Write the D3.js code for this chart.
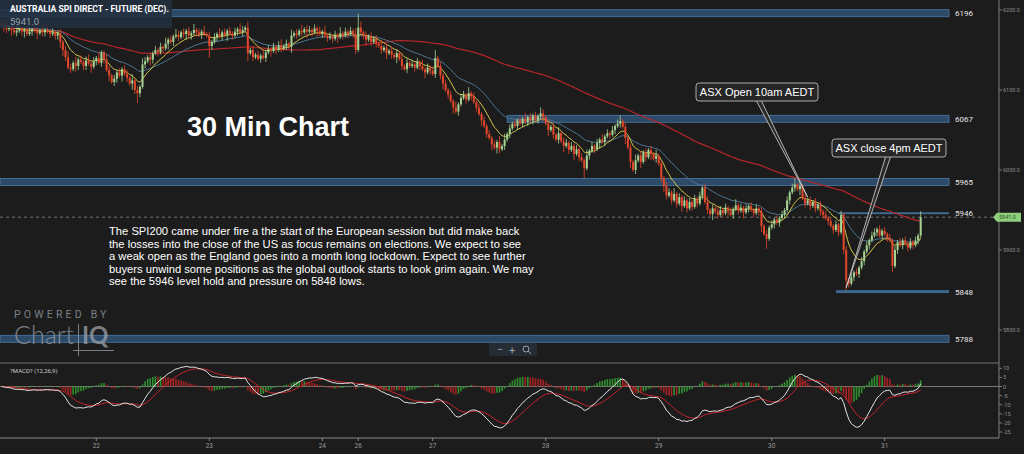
<!DOCTYPE html>
<html>
<head>
<meta charset="utf-8">
<script src="https://cdn.jsdelivr.net/npm/d3@7"></script>
<style>
  body { margin: 0; background: #1c1c1c; overflow: hidden; }
  text { font-family: Roboto, "Liberation Sans", sans-serif; }
</style>
</head>
<body>
<script>
// 30 min closes (open = previous close)
var closes = [
  6181, 6178, 6176, 6179, 6175, 6172, 6174, 6177, 6173, 6175, 6170, 6173, 6176, 6174, 6171, 6174, 6172, 6175, 6173, 6170,
  6172, 6168, 6171, 6160, 6150, 6141, 6128, 6126, 6134, 6130, 6138, 6135, 6130, 6137, 6133, 6129, 6136, 6140, 6134, 6147,
  6138, 6125, 6118, 6110, 6114, 6122, 6118, 6126, 6120, 6115, 6108, 6112, 6100, 6096, 6104, 6132, 6136, 6141, 6138, 6146,
  6150, 6147, 6154, 6152, 6158, 6163, 6160, 6167, 6169, 6166, 6172, 6170, 6174, 6168, 6171, 6175, 6172, 6169, 6173, 6170,
  6168, 6155, 6160, 6166, 6170, 6167, 6172, 6169, 6174, 6171, 6168, 6173, 6176, 6172, 6175, 6178, 6146, 6150, 6141, 6144,
  6139, 6143, 6140, 6147, 6151, 6149, 6154, 6150, 6156, 6152, 6155, 6158, 6154, 6168, 6171, 6169, 6174, 6172, 6176, 6173,
  6175, 6172, 6177, 6174, 6170, 6173, 6168, 6165, 6167, 6164, 6169, 6166, 6171, 6168, 6173, 6170, 6174, 6170, 6150, 6178,
  6172, 6168, 6163, 6167, 6160, 6164, 6158, 6155, 6150, 6153, 6146, 6149, 6144, 6141, 6146, 6139, 6130, 6126, 6134, 6130,
  6132, 6128, 6135, 6130, 6126, 6122, 6128, 6124, 6120, 6140, 6130, 6118, 6108, 6100, 6094, 6086, 6078, 6073, 6082, 6090,
  6094, 6088, 6096, 6092, 6085, 6078, 6070, 6062, 6055, 6045, 6040, 6032, 6028, 6035, 6026, 6030, 6038, 6045, 6052, 6058,
  6055, 6062, 6058, 6064, 6060, 6066, 6062, 6068, 6063, 6067, 6071, 6066, 6058, 6050, 6054, 6044, 6038, 6046, 6036, 6030,
  6034, 6025, 6030, 6020, 6026, 6016, 6012, 6002, 6018, 6024, 6030, 6026, 6034, 6038, 6035, 6042, 6046, 6044, 6050, 6055,
  6058, 6061, 6054, 6040, 6028, 6010, 6000, 6012, 6018, 6010, 6022, 6016, 6025, 6020, 6014, 6018, 6008, 5990, 5980, 5968,
  5972, 5962, 5970, 5958, 5966, 5955, 5962, 5952, 5960, 5954, 5964, 5958, 5968, 5978, 5960, 5950, 5945, 5952, 5948, 5944,
  5950, 5946, 5953, 5948, 5944, 5951, 5956, 5949, 5953, 5947, 5952, 5955, 5950, 5946, 5952, 5948, 5930, 5920, 5914, 5928,
  5932, 5938, 5934, 5940, 5944, 5950, 5962, 5972, 5978, 5982, 5976, 5980, 5965, 5958, 5962, 5955, 5960, 5952, 5956, 5948,
  5944, 5940, 5936, 5930, 5925, 5932, 5922, 5944, 5900, 5862, 5858, 5866, 5872, 5870, 5878, 5886, 5898, 5906, 5912, 5918,
  5922, 5926, 5918, 5924, 5920, 5915, 5912, 5880, 5900, 5910, 5906, 5912, 5908, 5903, 5910, 5906, 5912, 5918, 5941
];
// wick lengths above / below the body, one digit per bar (x2.5 points)
var wickUp =
  "21312132112312213121" + "21121232131212312131" + "13212121221312132121" + "21213121321212131213" +
  "12121312121213213121" + "21312121231213121312" + "21212131212131212137" + "31212121312121213121" +
  "21213121241212121312" + "21312121212121313121" + "21213121213212121312" + "21212121312121312121" +
  "23121213121212131212" + "21312121212121231212" + "21212131212121212121" + "21212121231212121212" +
  "12121212121212121212" + "2121212121212121213";
var wickDn =
  "12213121231121312212" + "12233212132122131212" + "21312213121325212132" + "12121312121231212121" +
  "16212121312121214121" + "12121312121213121213" + "12131212121312121221" + "12312121213121312121" +
  "12121312121231213121" + "12121213121313212121" + "12121212121213121213" + "12131215121213121212" +
  "12131312131213121232" + "12121312121212121312" + "12121212131212123151" + "12121212121312121212" +
  "21212121252121212121" + "1212121312121212121";

var dayLabels = ['22', '23', '24', '26', '27', '28', '29', '30', '31'];
var dayBars = [37, 81, 125, 139, 168, 212, 256, 300, 344];

var levelLabels = ['6196', '6067', '5965', '5946', '5848', '5788'];
var levelPrices = [6196, 6064, 5985, 5946, 5848, 5789];
var levelFromBar = [0, 197, 0, 326, 325, 0];
var levelThick = [7, 7, 7, 2, 3, 7];

var priceTicks = [6200, 6100, 6000, 5900, 5800];
var macdTicks = [10, 5, 0, -5, -10, -15, -20, -25];
var lastPrice = 5941.0;

var W = 1024, H = 454;
var plotR = 999;

var svg = d3.select('body').append('svg')
  .attr('width', W)
  .attr('height', H);

var x = d3.scaleLinear().domain([0, 389]).range([0, plotR]);
var y = d3.scaleLinear().domain([5800, 6200]).range([330, 10]);
var ym = d3.scaleLinear().domain([-25, 10]).range([432, 368.3]);

// candles
var bars = closes.map(function(c, i) {
  var o = i ? closes[i - 1] : c + 2;
  var up = +(wickUp[i] || 1) * 2.5, dn = +(wickDn[i] || 1) * 2.5;
  return { i: i, o: o, c: c, h: Math.max(o, c) + up, l: Math.min(o, c) - dn };
});

function ema(arr, n) {
  var k = 2 / (n + 1), e, out = [];
  arr.forEach(function(v, i) { e = i ? v * k + e * (1 - k) : v; out.push(e); });
  return out;
}
function sma(arr, n) {
  return arr.map(function(v, i) {
    var s = arr.slice(Math.max(0, i - n + 1), i + 1);
    return d3.mean(s);
  });
}

var maFast = ema(closes, 10);
var maMid = ema(closes, 26);
var maSlow = sma(closes, 100);

var ema26 = ema(closes, 26);
var macd = ema(closes, 12).map(function(v, i) { return v - ema26[i]; });
var signal = ema(macd, 9);
var hist = macd.map(function(v, i) { return v - signal[i]; });

var cx = function(i) { return x(i + 0.5); };

// clip for the price panel
svg.append('clipPath').attr('id', 'pclip')
  .append('rect').attr('x', 0).attr('y', 0).attr('width', plotR).attr('height', 363);

var price = svg.append('g').attr('clip-path', 'url(#pclip)');

// level bands
levelPrices.forEach(function(p, k) {
  var x0 = levelFromBar[k] ? cx(levelFromBar[k]) : 0;
  var t = levelThick[k];
  price.append('rect')
    .attr('x', x0).attr('y', y(p) - t / 2)
    .attr('width', 949 - x0).attr('height', t)
    .attr('fill', t > 4 ? '#2e4a69' : '#3d6890')
    .attr('stroke', '#4b78a3').attr('stroke-width', t > 4 ? 0.8 : 0);
  svg.append('text')
    .attr('x', 955).attr('y', y(p) + 3)
    .attr('fill', '#e6e6e6').attr('font-size', 8)
    .text(levelLabels[k]);
});

// current price dashed line
price.append('line')
  .attr('x1', 0).attr('x2', plotR)
  .attr('y1', y(lastPrice)).attr('y2', y(lastPrice))
  .attr('stroke', '#8a8a8a').attr('stroke-width', 0.8)
  .attr('stroke-dasharray', '3,3');

// moving averages
function maLine(vals, col, w) {
  price.append('path')
    .datum(vals)
    .attr('fill', 'none').attr('stroke', col).attr('stroke-width', w)
    .attr('d', d3.line().x(function(d, i) { return cx(i); }).y(function(d) { return y(d); }).curve(d3.curveMonotoneX));
}
maLine(maSlow, '#b5262c', 1.2);
maLine(maMid, '#4f7894', 1);
maLine(maFast, '#d8c94a', 1);

var cg = price.append('g');
cg.selectAll('line').data(bars).enter().append('line')
  .attr('x1', function(d) { return cx(d.i); }).attr('x2', function(d) { return cx(d.i); })
  .attr('y1', function(d) { return y(d.h); }).attr('y2', function(d) { return y(d.l); })
  .attr('stroke', function(d) { return d.c >= d.o ? '#a7d392' : '#e2472b'; })
  .attr('stroke-width', 0.8);
cg.selectAll('rect').data(bars).enter().append('rect')
  .attr('x', function(d) { return cx(d.i) - 1; })
  .attr('width', 2)
  .attr('y', function(d) { return y(Math.max(d.o, d.c)); })
  .attr('height', function(d) { return Math.max(1, Math.abs(y(d.o) - y(d.c))); })
  .attr('fill', function(d) { return d.c >= d.o ? '#a7d392' : '#e2472b'; });

// title box
svg.append('rect').attr('x', 0).attr('y', 0).attr('width', 172).attr('height', 28)
  .attr('fill', '#223040').attr('opacity', 0.88);
svg.append('text').attr('x', 10).attr('y', 12)
  .attr('fill', '#ffffff').attr('font-size', 8.6).attr('font-weight', 'bold')
  .text('AUSTRALIA SPI DIRECT - FUTURE (DEC).');
svg.append('text').attr('x', 10).attr('y', 25)
  .attr('fill', '#9aa3ad').attr('font-size', 9.5)
  .text(lastPrice.toFixed(1));

// big heading and commentary
svg.append('text').attr('x', 187).attr('y', 136)
  .attr('fill', '#ffffff').attr('font-size', 27).attr('font-weight', 'bold')
  .style('font-family', '"Liberation Sans", Arial, sans-serif')
  .text('30 Min Chart');

var para = [
  'The SPI200 came under fire a the start of the European session but did make back',
  'the losses into the close of the US as focus remains on elections. We expect to see',
  'a weak open as the England goes into a month long lockdown. Expect to see further',
  'buyers unwind some positions as the global outlook starts to look grim again. We may',
  'see the 5946 level hold and pressure on 5848 lows.'
];
svg.append('text').attr('x', 109).attr('y', 235)
  .attr('fill', '#ffffff').attr('font-size', 11.2)
  .style('font-family', '"Liberation Sans", Arial, sans-serif')
  .selectAll('tspan').data(para).enter().append('tspan')
  .attr('x', 109).attr('dy', function(d, i) { return i ? 12.5 : 0; })
  .text(function(d) { return d; });

// callouts
function callout(txt, bx, by, bw, baseX, tipBar, tipPrice) {
  var tx = cx(tipBar), ty = y(tipPrice);
  svg.append('path')
    .attr('d', 'M' + (baseX - 2.5) + ',' + (by + 18) + 'L' + tx + ',' + ty + 'L' + (baseX + 2.5) + ',' + (by + 18))
    .attr('fill', '#2a2a2a').attr('stroke', '#d8d8d8').attr('stroke-width', 0.8);
  svg.append('rect').attr('x', bx).attr('y', by).attr('width', bw).attr('height', 18).attr('rx', 3)
    .attr('fill', '#262626').attr('stroke', '#cfcfcf').attr('stroke-width', 0.8);
  svg.append('text').attr('x', bx + bw / 2).attr('y', by + 13)
    .attr('text-anchor', 'middle').attr('fill', '#ffffff').attr('font-size', 11)
    .style('font-family', '"Liberation Sans", Arial, sans-serif')
    .text(txt);
}
callout('ASX Open 10am AEDT', 696, 83, 122, 759, 314, 5966);
callout('ASX close 4pm AEDT', 832, 139, 114, 888, 329, 5853);

// logo
var logo = svg.append('g').attr('fill', '#9aa1aa').attr('opacity', 0.75);
logo.append('text').attr('x', 14).attr('y', 318).attr('font-size', 10.5)
  .attr('letter-spacing', 3.2).text('POWERED BY');
logo.append('text').attr('x', 14).attr('y', 344).attr('font-size', 25)
  .attr('font-weight', 300).style('font-family', 'Lato, sans-serif').text('Chart');
logo.append('text').attr('x', 82).attr('y', 344).attr('font-size', 24)
  .attr('font-weight', 'bold').style('font-family', 'Lato, sans-serif').text('IQ');
logo.append('rect').attr('x', 78).attr('y', 324).attr('width', 1).attr('height', 32);
logo.append('rect').attr('x', 73).attr('y', 350).attr('width', 41).attr('height', 1);

// zoom controls
var zc = svg.append('g').attr('transform', 'translate(489,343)');
zc.append('rect').attr('width', 48).attr('height', 13).attr('rx', 2).attr('fill', '#262c33');
zc.append('text').attr('x', 8).attr('y', 10).attr('fill', '#9aa1aa').attr('font-size', 11).text('−');
zc.append('text').attr('x', 20).attr('y', 10.5).attr('fill', '#9aa1aa').attr('font-size', 11).text('+');
zc.append('circle').attr('cx', 37).attr('cy', 6).attr('r', 3).attr('fill', 'none').attr('stroke', '#9aa1aa');
zc.append('line').attr('x1', 39).attr('y1', 8).attr('x2', 42).attr('y2', 11).attr('stroke', '#9aa1aa');

// right axis
svg.append('line').attr('x1', plotR).attr('x2', plotR).attr('y1', 0).attr('y2', 438)
  .attr('stroke', '#7d7d7d');
priceTicks.forEach(function(p) {
  svg.append('line').attr('x1', plotR).attr('x2', plotR + 3).attr('y1', y(p)).attr('y2', y(p)).attr('stroke', '#7d7d7d');
  svg.append('text').attr('x', plotR + 4).attr('y', y(p) + 2)
    .attr('fill', '#8f8f8f').attr('font-size', 5.5).text(p.toFixed(1));
});

// last price tag
var ly = y(lastPrice);
svg.append('path')
  .attr('d', 'M993,' + ly + 'L997,' + (ly - 4.5) + 'L1021,' + (ly - 4.5) + 'L1021,' + (ly + 4.5) + 'L997,' + (ly + 4.5) + 'Z')
  .attr('fill', '#8fce7c');
svg.append('text').attr('x', 999).attr('y', ly + 2)
  .attr('fill', '#2f5a22').attr('font-size', 5.5).text(lastPrice.toFixed(1));

// MACD panel
svg.append('line').attr('x1', 0).attr('x2', plotR).attr('y1', 363).attr('y2', 363).attr('stroke', '#6e6e6e');
svg.append('line').attr('x1', 0).attr('x2', plotR).attr('y1', 438).attr('y2', 438).attr('stroke', '#8a8a8a');
svg.append('line').attr('x1', 0).attr('x2', plotR).attr('y1', ym(0)).attr('y2', ym(0)).attr('stroke', '#777');
svg.append('text').attr('x', 10).attr('y', 373).attr('fill', '#c8c8c8').attr('font-size', 6)
  .text('?MACD? (12,26,9)');

svg.append('g').selectAll('rect').data(hist).enter().append('rect')
  .attr('x', function(d, i) { return cx(i) - 0.8; })
  .attr('width', 1.6)
  .attr('y', function(d) { return Math.min(ym(d), ym(0)); })
  .attr('height', function(d) { return Math.abs(ym(d) - ym(0)); })
  .attr('fill', function(d, i) { return i && d < hist[i - 1] ? '#a32222' : '#2f8f2f'; });

var ml = d3.line().x(function(d, i) { return cx(i); }).y(function(d) { return ym(d); });
svg.append('path').datum(signal).attr('fill', 'none').attr('stroke', '#c4242a').attr('stroke-width', 1).attr('d', ml);
svg.append('path').datum(macd).attr('fill', 'none').attr('stroke', '#e4e4e4').attr('stroke-width', 1).attr('d', ml);

macdTicks.forEach(function(t) {
  svg.append('line').attr('x1', plotR).attr('x2', plotR + 3).attr('y1', ym(t)).attr('y2', ym(t)).attr('stroke', '#7d7d7d');
  svg.append('text').attr('x', plotR + 4).attr('y', ym(t) + 2)
    .attr('fill', '#8f8f8f').attr('font-size', 5.5).text(t);
});

// x axis
dayBars.forEach(function(b, k) {
  svg.append('line').attr('x1', cx(b)).attr('x2', cx(b)).attr('y1', 438).attr('y2', 441).attr('stroke', '#8a8a8a');
  svg.append('text').attr('x', cx(b)).attr('y', 448).attr('text-anchor', 'middle')
    .attr('fill', '#9a9a9a').attr('font-size', 6.5).text(dayLabels[k]);
});
</script>
</body>
</html>
